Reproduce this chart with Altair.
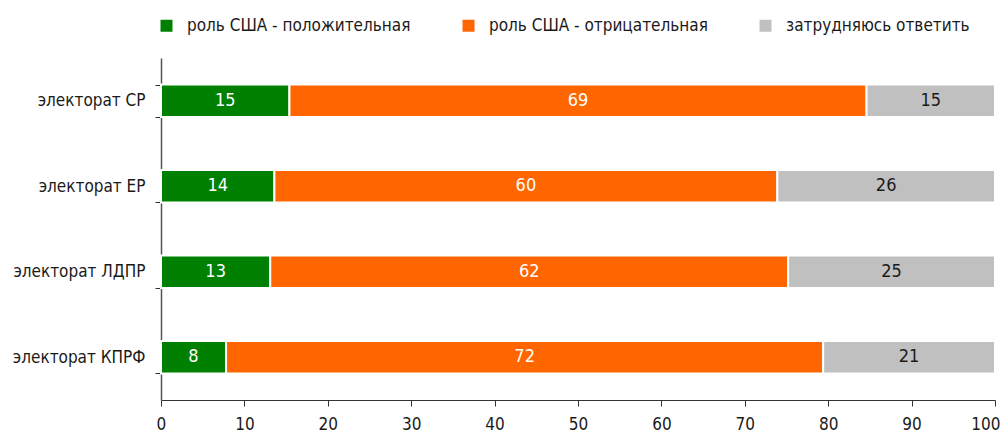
import altair as alt
import pandas as pd

categories = ["электорат СР", "электорат ЕР", "электорат ЛДПР", "электорат КПРФ"]
series = ["роль США - положительная", "роль США - отрицательная", "затрудняюсь ответить"]
positive = [15.4, 13.6, 13.1, 7.8]
negative = [69.2, 60.3, 62.1, 71.6]
unsure = [15.4, 26.1, 24.8, 20.6]
colors = ["#008000", "#FF6600", "#C0C0C0"]
text_colors = ["#FFFFFF", "#FFFFFF", "#1a1a1a"]

FONT = "DejaVu Sans Condensed, Liberation Sans Narrow, DejaVu Sans"

rows = []
for i, c in enumerate(categories):
    for j, (s, vals) in enumerate(zip(series, [positive, negative, unsure])):
        rows.append({"cat": c, "series": s, "order": j, "value": vals[i]})
df = pd.DataFrame(rows)

base = alt.Chart(df).transform_stack(
    stack="value", groupby=["cat"], as_=["x0", "x1"], sort=[alt.SortField("order")]
).transform_calculate(
    mid="(datum.x0 + datum.x1) / 2",
    label="format(datum.value, '.0f')",
)

y_enc = alt.Y(
    "cat:N",
    sort=categories,
    title=None,
    scale=alt.Scale(paddingInner=0.62, paddingOuter=0.31),
    axis=alt.Axis(
        tickBand="extent",
        labelFontSize=17,
        labelFont=FONT,
        labelColor="#1a1a1a",
        labelPadding=10,
        labelLimit=200,
        tickSize=6,
        tickColor="#333",
        domainColor="#555",
        domainWidth=1.5,
    ),
)

bars = base.mark_bar(stroke="white", strokeWidth=2).encode(
    x=alt.X(
        "x0:Q",
        scale=alt.Scale(domain=[0, 100], nice=False),
        title=None,
        axis=alt.Axis(
            values=list(range(0, 101, 10)),
            labelFontSize=17,
            labelFont=FONT,
            labelColor="#1a1a1a",
            labelPadding=10,
            labelFlush=True,
            labelFlushOffset=5,
            tickSize=6,
            tickColor="#333",
            domainColor="#333",
            grid=False,
        ),
    ),
    x2="x1:Q",
    y=y_enc,
    color=alt.Color(
        "series:N",
        sort=series,
        scale=alt.Scale(domain=series, range=colors),
        legend=alt.Legend(
            title=None,
            orient="none",
            legendX=-3,
            legendY=-41,
            direction="horizontal",
            symbolType="square",
            symbolSize=144,
            symbolStrokeWidth=0,
            labelFontSize=17,
            labelFont=FONT,
            labelColor="#1a1a1a",
            labelOffset=12,
            labelLimit=400,
            columnPadding=49,
        ),
    ),
)

texts = base.mark_text(fontSize=18, font=FONT).encode(
    x="mid:Q",
    y=alt.Y("cat:N", sort=categories),
    text="label:N",
    color=alt.Color("series:N", scale=alt.Scale(domain=series, range=text_colors), legend=None),
)

chart = (
    alt.layer(bars, texts)
    .resolve_scale(color="independent")
    .properties(
        width=834,
        height=342,
        autosize=alt.AutoSizeParams(type="none"),
        padding={"left": 153, "top": 50, "right": 5, "bottom": 32},
    )
    .configure_view(stroke=None)
)

chart.save("out.html", embed_options={"renderer": "svg", "actions": False})
